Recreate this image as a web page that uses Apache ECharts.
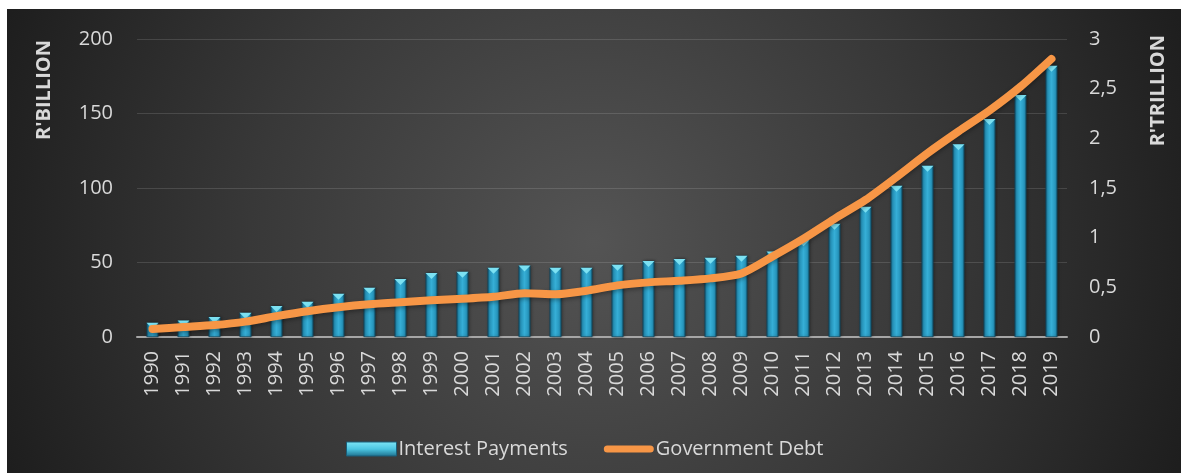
<!DOCTYPE html>
<html>
<head>
<meta charset="utf-8">
<script src="https://cdn.jsdelivr.net/npm/echarts@6/dist/echarts.min.js"></script>
<style>
  html, body { margin: 0; padding: 0; background: #ffffff; }
  #chart { position: absolute; left: 7px; top: 9px; width: 1174px; height: 464px; }
</style>
</head>
<body>
<div id="chart"></div>
<script>
// Years on the category axis
const years = ['1990','1991','1992','1993','1994','1995','1996','1997','1998','1999',
               '2000','2001','2002','2003','2004','2005','2006','2007','2008','2009',
               '2010','2011','2012','2013','2014','2015','2016','2017','2018','2019'];

// Interest payments, R billion (left axis)
const interestPayments = [9.5, 11, 13.5, 16.3, 20.8, 23.7, 29, 33, 38.9, 43,
                          43.8, 46.5, 48, 46.5, 46.5, 48.5, 51, 52.3, 53.2, 54.6,
                          57.3, 65, 76, 87.4, 101.5, 115, 129.3, 146.3, 162.4, 182];

// Government debt, R trillion (right axis)
const governmentDebt = [0.08, 0.10, 0.12, 0.155, 0.21, 0.26, 0.30, 0.33, 0.35, 0.37,
                        0.385, 0.405, 0.44, 0.43, 0.466, 0.52, 0.55, 0.567, 0.59, 0.64,
                        0.81, 0.99, 1.19, 1.38, 1.61, 1.85, 2.07, 2.28, 2.52, 2.80];

// Axis ranges and tick steps
const leftAxisMax = 200, leftAxisStep = 50;
const rightAxisMax = 3, rightAxisStep = 0.5;

const FONT = '"Open Sans", "Noto Sans", sans-serif';
const TEXT = '#d9d9d9';
const ORANGE = '#f79646';

const barGradient = new echarts.graphic.LinearGradient(0, 0, 1, 0, [
  { offset: 0, color: '#12506b' },
  { offset: 0.18, color: '#2796bd' },
  { offset: 0.5, color: '#36aed6' },
  { offset: 0.82, color: '#2796bd' },
  { offset: 1, color: '#12506b' }
]);

const chart = echarts.init(document.getElementById('chart'));
chart.setOption({
  backgroundColor: new echarts.graphic.RadialGradient(0.5, 0.5, 1.35, [
    { offset: 0, color: '#545454' },
    { offset: 0.55, color: '#383838' },
    { offset: 1, color: '#1e1e1e' }
  ]),
  textStyle: { fontFamily: FONT },
  grid: { left: 130, right: 114, top: 30, bottom: 136, containLabel: false },
  graphic: [
    {
      type: 'text', left: 27, top: 31, rotation: Math.PI / 2,
      style: { text: "R'BILLION", fill: TEXT, font: 'bold 20px ' + FONT }
    },
    {
      type: 'text', left: 1141, top: 26, rotation: Math.PI / 2,
      style: { text: "R'TRILLION", fill: TEXT, font: 'bold 20px ' + FONT }
    }
  ],
  legend: {
    left: 334, top: 425,
    itemWidth: 50, itemHeight: 14, itemGap: 36,
    textStyle: { color: TEXT, fontSize: 20, fontFamily: FONT, padding: [0, 0, 0, -3] },
    data: [
      { name: 'Interest Payments', icon: 'rect',
        itemStyle: { color: new echarts.graphic.LinearGradient(0, 0, 0, 1, [
          { offset: 0, color: '#7fe6f6' }, { offset: 0.5, color: '#4cc6e2' }, { offset: 1, color: '#1d6f8c' }
        ]), borderColor: '#1a5f7a', borderWidth: 1 } },
      { name: 'Government Debt',
        icon: 'path://M4,0 L52,0 A4,4 0 0 1 52,8 L4,8 A4,4 0 0 1 4,0 Z',
        itemStyle: { color: ORANGE, borderWidth: 0 } }
    ]
  },
  xAxis: {
    type: 'category',
    data: years,
    axisLine: { lineStyle: { color: '#a6a6a6', width: 2 } },
    axisTick: { show: false },
    axisLabel: { rotate: 90, color: TEXT, fontSize: 20, margin: 14, fontFamily: FONT, interval: 0 }
  },
  yAxis: [
    {
      type: 'value', min: 0, max: leftAxisMax, interval: leftAxisStep,
      axisLine: { show: false }, axisTick: { show: false },
      axisLabel: { color: TEXT, fontSize: 20, margin: 24, fontFamily: FONT },
      splitLine: { lineStyle: { color: 'rgba(255,255,255,0.13)', width: 1 } }
    },
    {
      type: 'value', min: 0, max: rightAxisMax, interval: rightAxisStep,
      axisLine: { show: false }, axisTick: { show: false },
      axisLabel: { color: TEXT, fontSize: 20, margin: 22, fontFamily: FONT,
        formatter: v => String(v).replace('.', ',') },
      splitLine: { show: false }
    }
  ],
  series: [
    {
      name: 'Interest Payments',
      type: 'bar',
      yAxisIndex: 0,
      data: interestPayments,
      barWidth: 12,
      itemStyle: { color: barGradient, borderColor: '#0f465e', borderWidth: 0.6,
        shadowColor: 'rgba(0,0,0,0.45)', shadowBlur: 3, shadowOffsetX: 1 },
      z: 2
    },
    {
      // bevelled cap on top of each bar
      name: 'Interest Payments',
      type: 'pictorialBar',
      yAxisIndex: 0,
      data: interestPayments,
      symbol: 'path://M0,0 L12,0 L6,6 Z',
      symbolSize: [12, 6],
      symbolPosition: 'end',
      symbolOffset: [0, 0],
      barWidth: 12,
      itemStyle: { color: '#7ce1f2' },
      silent: true,
      legendHoverLink: false,
      z: 3
    },
    {
      name: 'Government Debt',
      type: 'line',
      yAxisIndex: 1,
      data: governmentDebt,
      smooth: 0.25,
      showSymbol: false,
      symbol: 'none',
      lineStyle: { color: ORANGE, width: 8, cap: 'round', join: 'round',
        shadowColor: 'rgba(0,0,0,0.35)', shadowBlur: 4, shadowOffsetY: 2 },
      itemStyle: { color: ORANGE },
      z: 5
    }
  ],
  animation: false
});
</script>
</body>
</html>
